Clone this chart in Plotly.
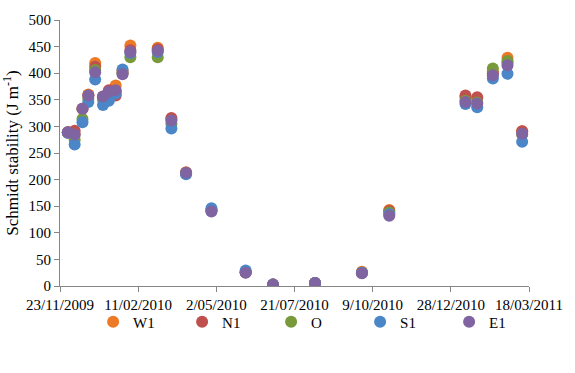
import plotly.graph_objects as go

dates = ["2009-12-01", "2009-12-08", "2009-12-16", "2009-12-22", "2009-12-29",
         "2010-01-06", "2010-01-12", "2010-01-19", "2010-01-26", "2010-02-03",
         "2010-03-03", "2010-03-17", "2010-04-01", "2010-04-27", "2010-06-01",
         "2010-06-29", "2010-08-11", "2010-09-28", "2010-10-26", "2011-01-12",
         "2011-01-24", "2011-02-09", "2011-02-24", "2011-03-11"]

W1 = [289, 285, 333, 360, 419, 356, 366, 377, 405, 452, 448, 314, 214, 142, 26, 2.6, 5.6, 27, 143, 355, 352, 403, 429, 291]
N1 = [289, 292, 333, 358, 412, 355, 368, 358, 402, 443, 445, 316, 213, 142, 26, 2.6, 5.6, 25, 141, 358, 355, 400, 420, 291]
O  = [288, 275, 314, 352, 406, 350, 360, 365, 400, 430, 430, 305, 212, 142, 26, 2.6, 5.6, 25, 138, 348, 345, 409, 423, 285]
S1 = [288, 266, 308, 346, 388, 340, 348, 362, 407, 438, 440, 296, 210, 146, 29, 2.6, 5.6, 25, 135, 342, 336, 390, 399, 271]
E1 = [289, 285, 333, 358, 402, 356, 365, 368, 398, 440, 442, 311, 213, 140, 25, 2.6, 5.6, 24, 132, 346, 343, 396, 415, 286]

series = [("W1", W1, "#EC7A26"), ("N1", N1, "#C0504D"), ("O", O, "#789A3A"),
          ("S1", S1, "#4A86C8"), ("E1", E1, "#8064A2")]

font_family = "Times New Roman, Liberation Serif, serif"

fig = go.Figure()
for name, vals, col in series:
    fig.add_trace(go.Scatter(x=dates, y=vals, name=name, mode="markers",
                             marker=dict(size=12, color=col)))

fig.update_layout(
    width=575, height=373,
    margin=dict(l=59, r=42, t=19, b=87),
    paper_bgcolor="white", plot_bgcolor="white",
    font=dict(family=font_family, size=15, color="black"),
    showlegend=True,
    legend=dict(orientation="h", x=0.545, xanchor="center", y=-0.135, yanchor="middle",
                bgcolor="rgba(0,0,0,0)", font=dict(size=15),
                itemwidth=30, entrywidth=44, entrywidthmode="pixels"),
)
fig.update_xaxes(
    type="date", range=["2009-11-23", "2011-03-18"],
    tick0="2009-11-23", dtick=80 * 86400000, tickformat="%-d/%m/%Y",
    showgrid=False, zeroline=False, showline=True, linecolor="#868686", linewidth=1,
    ticks="outside", ticklen=5, tickcolor="#868686",
    tickfont=dict(size=15), tickangle=0,
)
fig.update_yaxes(
    range=[0, 500], dtick=50, showgrid=False, zeroline=False,
    showline=True, linecolor="#868686", linewidth=1,
    ticks="outside", ticklen=5, tickcolor="#868686",
    tickfont=dict(size=15),
    title=dict(text="Schmidt stability (J m<sup>-1</sup>)", font=dict(size=17), standoff=5),
)

fig.write_html("out.html")
